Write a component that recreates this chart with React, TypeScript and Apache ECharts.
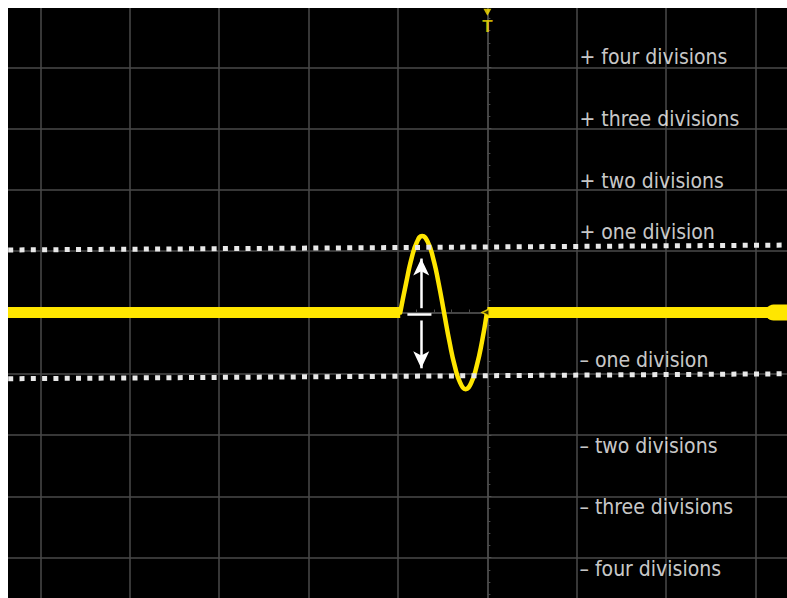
import React, { useEffect, useRef } from "react";
import * as echarts from "echarts";

// Axis bounds in divisions (the visible screen shows only part of them)
const xAxisBounds = [-6, 4];
const yAxisBounds = [-5, 5];

// Yellow trace (divisions)
const flatLeft: [number, number][] = [[-5.6, 0], [-0.975, 0]];
const flatRight: [number, number][] = [[0, 0], [3.6, 0]];
const endBulge: [number, number][] = [[3.2, 0], [3.6, 0]];
const pulse: [number, number][] = [
  [-0.975, 0], [-0.909, 0.48], [-0.849, 0.88], [-0.788, 1.15], [-0.73, 1.25],
  [-0.667, 1.15], [-0.606, 0.88], [-0.546, 0.48], [-0.485, 0], [-0.424, -0.48],
  [-0.364, -0.88], [-0.303, -1.15], [-0.243, -1.25], [-0.182, -1.15],
  [-0.121, -0.88], [-0.061, -0.48], [-0.005, 0],
];
const triggerPoint: [number, number][] = [[-0.02, 0]];

// White dotted reference lines (± one division)
const upperRef: [number, number][] = [[-5.36, 1.02], [3.36, 1.1]];
const lowerRef: [number, number][] = [[-5.36, -1.08], [3.36, -1.0]];

// Annotations
const labelTexts = [
  "+ four divisions", "+ three divisions", "+ two divisions", "+ one division",
  "– one division", "– two divisions", "– three divisions", "– four divisions",
];
const labelLevels = [4.16, 3.15, 2.14, 1.31, -0.78, -2.17, -3.18, -4.18];
const labelX = 1.03;

const arrowX = -0.74;
const upArrow: [number, number][] = [[arrowX, 0.07], [arrowX, 0.88]];
const downArrow: [number, number][] = [[arrowX, -0.13], [arrowX, -0.91]];
const zeroBar: [number, number][] = [[-0.895, -0.03], [-0.626, -0.03]];

const triggerMarker: [number, number][] = [[0, 4.9]];
const triggerLabel: [number, number][] = [[0, 4.66]];

const YELLOW = "#ffe600";
const GRIDC = "#4a4a4a";
const FONT = "'Liberation Sans Narrow', 'DejaVu Sans Condensed', 'Roboto Condensed', Roboto, sans-serif";

export default function App() {
  const ref = useRef<HTMLDivElement>(null);
  useEffect(() => {
    if (!ref.current) return;
    const chart = echarts.init(ref.current, undefined, { renderer: "svg" });
    const yellowLine = (
      data: [number, number][],
      width: number,
      smooth = false,
      z = 3,
      cap = "butt"
    ) => ({
      type: "line",
      data,
      smooth,
      symbol: "none",
      z,
      clip: false,
      lineStyle: { color: YELLOW, width, cap },
      silent: true,
    });
    const axisCommon = {
      type: "value",
      interval: 1,
      axisLabel: { show: false },
      axisLine: { show: true, onZero: true, lineStyle: { color: GRIDC, width: 1.5 } },
      axisTick: { show: true, inside: true, length: 4, lineStyle: { color: "#505050" } },
      minorTick: { show: true, splitNumber: 5, length: 3, lineStyle: { color: "#4a4a4a" } },
      splitLine: { show: true, lineStyle: { color: GRIDC, width: 1.5 } },
    };
    const option: any = {
      animation: false,
      backgroundColor: "#000",
      grid: { left: 0, right: 0, top: 0, bottom: 0, containLabel: false },
      xAxis: { ...axisCommon, min: xAxisBounds[0], max: xAxisBounds[1] },
      yAxis: { ...axisCommon, min: yAxisBounds[0], max: yAxisBounds[1] },
      series: [
        yellowLine(flatLeft, 11),
        yellowLine(flatRight, 11),
        yellowLine(endBulge, 16, false, 3, "round"),
        yellowLine(pulse, 4.5, true, 4, "round"),
        {
          type: "scatter",
          data: triggerPoint,
          symbol: "triangle",
          symbolRotate: 90,
          symbolSize: 7,
          z: 5,
          itemStyle: { color: "#000", borderColor: YELLOW, borderWidth: 1.5 },
        },
        {
          type: "line",
          data: upperRef,
          symbol: "none",
          z: 6,
          lineStyle: { color: "#e8e8e8", width: 5, type: [5, 6.3], cap: "butt" },
        },
        {
          type: "line",
          data: lowerRef,
          symbol: "none",
          z: 6,
          lineStyle: { color: "#e8e8e8", width: 5, type: [5, 6.3], cap: "butt" },
        },
        {
          type: "line",
          data: [],
          z: 7,
          markLine: {
            silent: true,
            symbol: ["none", "arrow"],
            symbolSize: [12, 17],
            label: { show: false },
            lineStyle: { color: "#ffffff", width: 2.5, type: "solid" },
            data: [
              [{ coord: upArrow[0] }, { coord: upArrow[1] }],
              [{ coord: downArrow[0] }, { coord: downArrow[1] }],
              [
                { coord: zeroBar[0], symbol: "none" },
                { coord: zeroBar[1], symbol: "none" },
              ],
            ],
          },
        },
        {
          type: "scatter",
          data: triggerMarker,
          symbol: "triangle",
          symbolRotate: 180,
          symbolSize: [8, 7],
          z: 8,
          itemStyle: { color: YELLOW },
        },
        {
          type: "scatter",
          data: triggerLabel,
          symbolSize: 0,
          z: 8,
          label: {
            show: true,
            position: "inside",
            formatter: "T",
            color: YELLOW,
            fontFamily: "'Liberation Sans', Arial, sans-serif",
            fontWeight: "bold",
            fontSize: 17,
          },
        },
        {
          type: "scatter",
          data: labelLevels.map((y, i) => ({ value: [labelX, y], name: labelTexts[i] })),
          symbolSize: 0,
          z: 9,
          label: {
            show: true,
            position: "right",
            distance: 0,
            formatter: (p: any) => p.name,
            color: "#ffffff",
            fontFamily: FONT,
            fontSize: 21,
          },
        },
      ],
    };
    chart.setOption(option);
    return () => chart.dispose();
  }, []);
  return (
    <div
      style={{
        position: "fixed",
        left: 8,
        top: 8,
        width: 779,
        height: 590,
        overflow: "hidden",
        background: "#000",
      }}
    >
      <div
        ref={ref}
        style={{ position: "absolute", left: -57.4, top: -2.5, width: 894, height: 613 }}
      />
    </div>
  );
}
